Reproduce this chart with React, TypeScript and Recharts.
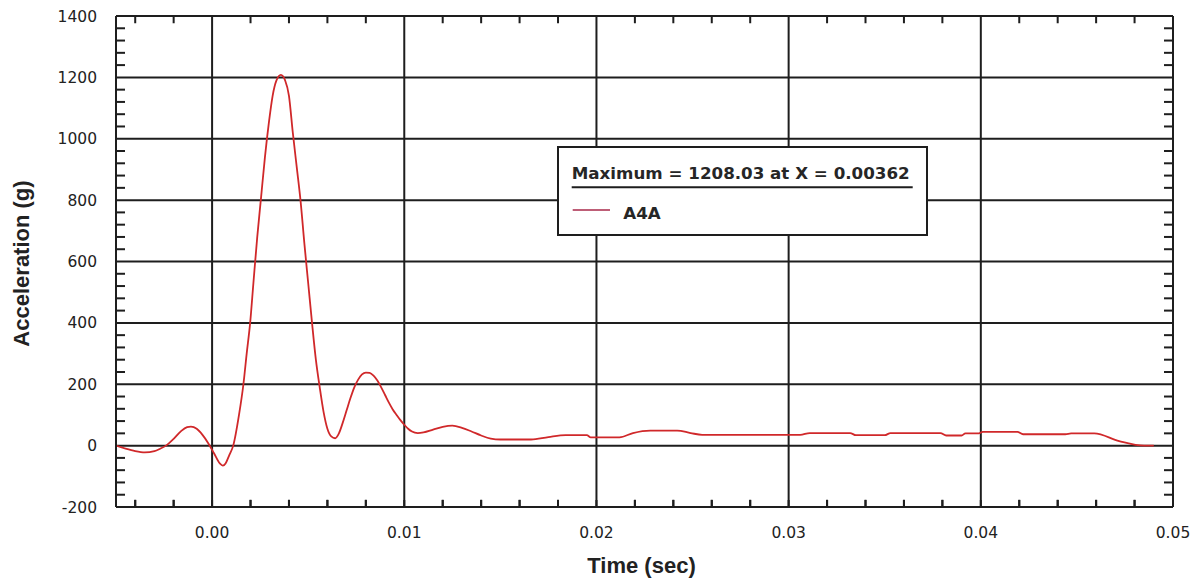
import React from 'react';
import { LineChart, Line, XAxis, YAxis, CartesianGrid, Legend } from 'recharts';

const times = [
  -0.005, -0.0045, -0.004, -0.0035, -0.003, -0.0027, -0.0024, -0.002, -0.0016, -0.0013,
  -0.0011, -0.0008, -0.0005, -0.0002, 0.0001, 0.0004, 0.00056, 0.0007, 0.0009, 0.0011,
  0.0014, 0.00163, 0.0018, 0.00198, 0.00215, 0.00235, 0.00255, 0.00275, 0.00295, 0.00315,
  0.00335, 0.00358, 0.0038, 0.004, 0.0042, 0.0044, 0.0046, 0.0048, 0.005, 0.0052,
  0.0054, 0.0056, 0.0058, 0.006, 0.0062, 0.0064, 0.0066, 0.0068, 0.007, 0.0072,
  0.0074, 0.0076, 0.0078, 0.008, 0.0082, 0.0084, 0.0086, 0.0088, 0.009, 0.0092,
  0.0094, 0.0096, 0.0098, 0.01, 0.0102, 0.0104, 0.0107, 0.011, 0.0115, 0.012,
  0.0125, 0.013, 0.0135, 0.014, 0.0145, 0.015, 0.0166, 0.0175, 0.0184, 0.0195,
  0.0197, 0.0212, 0.0219, 0.0228, 0.0242, 0.0249, 0.0255, 0.0306, 0.0311, 0.0332,
  0.0335, 0.035, 0.0353, 0.0379, 0.0382, 0.039, 0.0392, 0.0399, 0.0401, 0.0419,
  0.0422, 0.0444, 0.0447, 0.0459, 0.0472, 0.0485, 0.049,
];
const accel = [
  0, -10, -18, -22, -18, -10, 0, 22, 48, 60,
  62, 55, 35, 8, -25, -58, -65, -58, -30, 0,
  100, 200, 300, 400, 530, 680, 810, 940, 1050, 1140,
  1190, 1208, 1190, 1140, 1020, 910, 800, 660, 530, 400,
  280, 190, 110, 55, 30, 24, 40, 75, 115, 155,
  190, 215, 232, 238, 237, 228, 212, 190, 165, 140,
  118, 100, 83, 68, 55, 46, 41, 43, 52, 61,
  65, 58, 46, 33, 23, 20, 20, 28, 34, 34,
  27, 27, 41, 49, 49, 41, 35, 35, 41, 41,
  34, 34, 41, 41, 33, 33, 40, 40, 45, 45,
  37, 37, 40, 40, 15, 0, 0,
];

const xMajorTicks = [0, 0.01, 0.02, 0.03, 0.04, 0.05];
const xMinorTicks = [
  -0.004, -0.002, 0.002, 0.004, 0.006, 0.008, 0.012, 0.014, 0.016, 0.018,
  0.022, 0.024, 0.026, 0.028, 0.032, 0.034, 0.036, 0.038, 0.042, 0.044, 0.046, 0.048,
];
const yTicks = [-200, 0, 200, 400, 600, 800, 1000, 1200, 1400];
const yMinorTicks = [
  -160, -120, -80, -40, 40, 80, 120, 160, 240, 280, 320, 360, 440, 480, 520, 560,
  640, 680, 720, 760, 840, 880, 920, 960, 1040, 1080, 1120, 1160, 1240, 1280, 1320, 1360,
];

const seriesName = 'A4A';
const maxText = 'Maximum = 1208.03 at X = 0.00362';

const Y_MIN = -200;
const Y_MAX = 1400;
const MINOR_TICK_LEN = 24; // data units (~7.5px)

const data = times.map((t, i) => ({ t, a: accel[i] }));
const xAllTicks = [...xMajorTicks, ...xMinorTicks].sort((a, b) => a - b);
const isMajorX = (v: number) => xMajorTicks.some((m) => Math.abs(m - v) < 1e-9);

// Minor tick marks along the bottom and top frame, as broken line segments
const tickMarkData = xMinorTicks.flatMap((t) => [
  { t, lo: Y_MIN, hi: Y_MAX },
  { t, lo: Y_MIN + MINOR_TICK_LEN, hi: Y_MAX - MINOR_TICK_LEN },
  { t, lo: null, hi: null },
]);

const AX = '#1e1e1e';
const tickFont = { fontFamily: 'DejaVu Sans', fontSize: 15.5, fill: '#222' };
const NoTick = () => <g />;

const LegendBox = () => (
  <svg width={371} height={90} style={{ display: 'block' }}>
    <rect x={1} y={1} width={369} height={88} fill="#fff" stroke={AX} strokeWidth={2} />
    <text x={14.7} y={33.3} fontFamily="DejaVu Sans" fontWeight="bold" fontSize={16.7} fill="#262626">
      {maxText}
    </text>
    <line x1={14.7} x2={355.7} y1={41.3} y2={41.3} stroke={AX} strokeWidth={2} />
    <line x1={15.7} x2={53} y1={64} y2={64} stroke="#a8284a" strokeWidth={1.5} />
    <text x={66.3} y={73.3} fontFamily="DejaVu Sans" fontWeight="bold" fontSize={16.7} fill="#262626">
      {seriesName}
    </text>
  </svg>
);

export default function App() {
  return (
    <div style={{ position: 'absolute', left: 0, top: 0, background: '#fff' }}>
      <LineChart
        width={1202}
        height={585}
        data={data}
        margin={{ top: 16, right: 29, bottom: 0, left: 0 }}
      >
        <CartesianGrid
          stroke={AX}
          strokeWidth={2}
          horizontal
          vertical
          verticalValues={xMajorTicks}
          horizontalValues={yTicks}
        />
        <XAxis
          dataKey="t"
          type="number"
          domain={[-0.005, 0.05]}
          allowDataOverflow
          ticks={xAllTicks}
          interval={0}
          tickFormatter={(v: number) => (isMajorX(v) ? v.toFixed(2) : '')}
          height={78}
          tickLine={{ stroke: AX, strokeWidth: 2 }}
          tickSize={-7}
          tickMargin={27}
          axisLine={{ stroke: AX, strokeWidth: 2 }}
          tick={tickFont}
          label={{
            content: (p: any) => {
              const vb = p.viewBox;
              return (
                <text
                  x={vb.x + vb.width / 2 - 3}
                  y={vb.y + vb.height - 12}
                  textAnchor="middle"
                  fontFamily="Liberation Sans"
                  fontWeight="bold"
                  fontSize={22}
                  fill="#222"
                >
                  Time (sec)
                </text>
              );
            },
          }}
        />
        <XAxis
          xAxisId="xtop"
          dataKey="t"
          type="number"
          domain={[-0.005, 0.05]}
          allowDataOverflow
          ticks={xMinorTicks}
          interval={0}
          orientation="top"
          height={0}
          axisLine={false}
          tick={NoTick}
          tickLine={{ stroke: AX, strokeWidth: 2 }}
          tickSize={-8}
        />
        <YAxis
          type="number"
          domain={[Y_MIN, Y_MAX]}
          allowDataOverflow
          ticks={yTicks}
          width={116}
          tickLine={false}
          tickSize={8}
          tickMargin={11}
          axisLine={{ stroke: AX, strokeWidth: 2 }}
          tick={tickFont}
          label={{
            content: (p: any) => {
              const vb = p.viewBox;
              const cx = vb.x + 21;
              const cy = vb.y + vb.height / 2 + 2;
              return (
                <text
                  x={cx}
                  y={cy}
                  transform={`rotate(-90 ${cx} ${cy})`}
                  textAnchor="middle"
                  dominantBaseline="central"
                  fontFamily="Liberation Sans"
                  fontWeight="bold"
                  fontSize={22}
                  fill="#222"
                >
                  Acceleration (g)
                </text>
              );
            },
          }}
        />
        <YAxis
          yAxisId="yminor"
          type="number"
          domain={[Y_MIN, Y_MAX]}
          allowDataOverflow
          ticks={yMinorTicks}
          interval={0}
          orientation="left"
          mirror
          axisLine={false}
          tick={NoTick}
          tickLine={{ stroke: AX, strokeWidth: 2 }}
          tickSize={9}
        />
        <YAxis
          yAxisId="yright"
          type="number"
          domain={[Y_MIN, Y_MAX]}
          allowDataOverflow
          ticks={yMinorTicks}
          interval={0}
          orientation="right"
          mirror
          axisLine={{ stroke: AX, strokeWidth: 2 }}
          tick={NoTick}
          tickLine={{ stroke: AX, strokeWidth: 2 }}
          tickSize={9}
        />
        <Line
          data={tickMarkData}
          dataKey="lo"
          type="linear"
          stroke={AX}
          strokeWidth={2}
          dot={false}
          activeDot={false}
          connectNulls={false}
          legendType="none"
          isAnimationActive={false}
        />
        <Line
          data={tickMarkData}
          dataKey="hi"
          type="linear"
          stroke={AX}
          strokeWidth={2}
          dot={false}
          activeDot={false}
          connectNulls={false}
          legendType="none"
          isAnimationActive={false}
        />
        <Legend
          layout="horizontal"
          verticalAlign="middle"
          align="center"
          wrapperStyle={{ position: 'absolute', left: 557, top: 146, width: 371, height: 90 }}
          content={() => <LegendBox />}
        />
        <Line
          type="monotone"
          dataKey="a"
          name={seriesName}
          stroke="#d0282a"
          strokeWidth={1.8}
          dot={false}
          activeDot={false}
          isAnimationActive={false}
        />
      </LineChart>
    </div>
  );
}
